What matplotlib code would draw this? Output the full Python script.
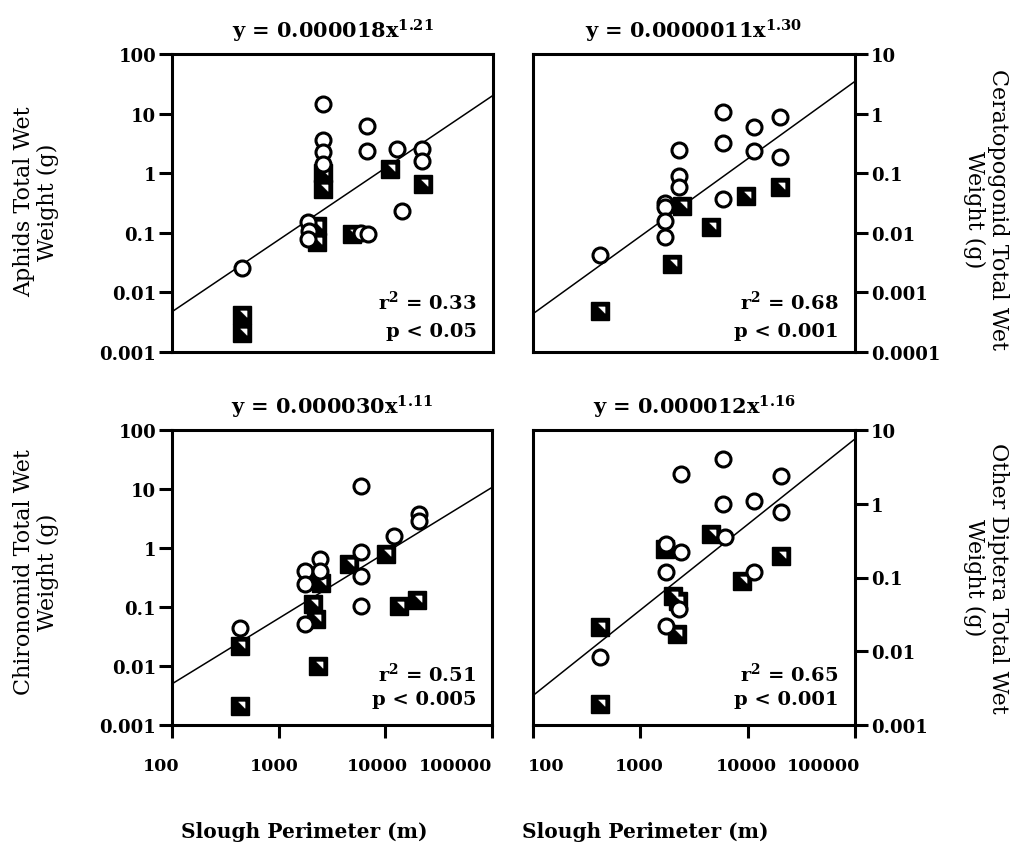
import numpy as np
import matplotlib
matplotlib.use("Agg")
import matplotlib.pyplot as plt
from matplotlib.ticker import FixedLocator, FixedFormatter, NullLocator

plt.rcParams['font.family'] = ['DejaVu Serif']
plt.rcParams['font.weight'] = 'bold'
plt.rcParams['mathtext.fontset'] = 'custom'
plt.rcParams['mathtext.rm'] = 'DejaVu Serif:bold'
plt.rcParams['mathtext.it'] = 'DejaVu Serif:bold'
plt.rcParams['mathtext.bf'] = 'DejaVu Serif:bold'

# ---------------- data ----------------
x_ticks = [100, 1000, 10000, 100000]
x_tick_labels = ["100", "1000", "10000", "100000"]

# Aphids (top left)
aphid_circle_x = [448, 2600, 2600, 2600, 2600, 1880, 1900, 1880, 5900, 6800, 6600, 6600, 12600, 14000, 21600, 21600]
aphid_circle_y = [0.026, 14.5, 3.6, 2.3, 1.4, 0.15, 0.109, 0.079, 0.10, 0.095, 6.3, 2.4, 2.5, 0.235, 2.5, 1.6]
aphid_square_x = [2600, 2600, 2250, 2250, 4775, 10900, 22300, 448, 448]
aphid_square_y = [1.0, 0.55, 0.13, 0.069, 0.095, 1.17, 0.66, 0.0041, 0.0021]

# Ceratopogonid (top right)
cerat_circle_x = [421, 2310, 2310, 2310, 1700, 1700, 1700, 1700, 5930, 5930, 5930, 11560, 11560, 20000, 20000]
cerat_circle_y = [0.0042, 0.245, 0.091, 0.058, 0.032, 0.027, 0.0155, 0.0084, 1.08, 0.32, 0.037, 0.59, 0.24, 0.87, 0.19]
cerat_square_x = [2430, 1960, 421, 4570, 9690, 20000]
cerat_square_y = [0.0285, 0.003, 0.00049, 0.0127, 0.042, 0.058]

# Chironomid (bottom left)
chiro_circle_x = [432, 1750, 1750, 2415, 2415, 1750, 5930, 5930, 5930, 5930, 12130, 20800, 20800]
chiro_circle_y = [0.0436, 0.41, 0.245, 0.65, 0.41, 0.051, 11.4, 0.85, 0.34, 0.105, 1.6, 3.8, 2.9]
chiro_square_x = [432, 432, 2330, 2090, 2240, 2510, 4610, 10140, 13500, 20000]
chiro_square_y = [0.022, 0.0021, 0.0101, 0.112, 0.063, 0.26, 0.54, 0.79, 0.105, 0.133]

# Other Diptera (bottom right)
dipt_circle_x = [417, 1750, 2415, 1750, 2300, 1750, 2415, 5890, 5890, 6100, 11470, 11470, 20300, 20300]
dipt_circle_y = [0.0083, 0.284, 0.22, 0.12, 0.037, 0.022, 2.53, 4.0, 1.0, 0.35, 1.1, 0.117, 2.4, 0.78]
dipt_square_x = [417, 417, 1700, 2000, 2230, 2190, 4510, 8900, 20300]
dipt_square_y = [0.021, 0.0019, 0.24, 0.057, 0.048, 0.017, 0.39, 0.091, 0.198]

# power-law fits y = a * x^b
fit_a = [0.000018, 0.0000011, 0.000030, 0.000012]
fit_b = [1.21, 1.30, 1.11, 1.16]
titles = ["y = 0.000018x$^{1.21}$", "y = 0.0000011x$^{1.30}$",
          "y = 0.000030x$^{1.11}$", "y = 0.000012x$^{1.16}$"]
r2_labels = ["r$^2$ = 0.33", "r$^2$ = 0.68", "r$^2$ = 0.51", "r$^2$ = 0.65"]
p_labels = ["p < 0.05", "p < 0.001", "p < 0.005", "p < 0.001"]
y_labels = ["Aphids Total Wet\nWeight (g)", "Ceratopogonid Total Wet\nWeight (g)",
            "Chironomid Total Wet\nWeight (g)", "Other Diptera Total Wet\nWeight (g)"]

y_ticks = [
    [0.001, 0.01, 0.1, 1, 10, 100],
    [0.0001, 0.001, 0.01, 0.1, 1, 10],
    [0.001, 0.01, 0.1, 1, 10, 100],
    [0.001, 0.01, 0.1, 1, 10],
]
y_tick_labels = [
    ["0.001", "0.01", "0.1", "1", "10", "100"],
    ["0.0001", "0.001", "0.01", "0.1", "1", "10"],
    ["0.001", "0.01", "0.1", "1", "10", "100"],
    ["0.001", "0.01", "0.1", "1", "10"],
]
x_label = "Slough Perimeter (m)"

# ---------------- layout ----------------
W, H = 1026, 853
fig = plt.figure(figsize=(W / 100, H / 100), dpi=100)


def px_rect(x0, y0, w, h):
    return [x0 / W, 1 - (y0 + h) / H, w / W, h / H]


rects = [px_rect(172, 55, 321, 298), px_rect(533, 55, 322, 298),
         px_rect(172, 431, 320, 295), px_rect(533, 431, 322, 295)]

circles_x = [aphid_circle_x, cerat_circle_x, chiro_circle_x, dipt_circle_x]
circles_y = [aphid_circle_y, cerat_circle_y, chiro_circle_y, dipt_circle_y]
squares_x = [aphid_square_x, cerat_square_x, chiro_square_x, dipt_square_x]
squares_y = [aphid_square_y, cerat_square_y, chiro_square_y, dipt_square_y]

# small white upper-right triangle drawn inside each black square
tri_marker = [(-0.2, 0.5), (0.5, 0.5), (0.5, -0.2), (-0.2, 0.5)]

# per-label x offsets (points) and alignment for bottom tick labels
xlab_style = [
    [(-8, 'center'), (-3, 'center'), (-6, 'center'), (0, 'right')],
    [(-4, 'left'), (-1, 'center'), (-1, 'center'), (4, 'right')],
]

for i in range(4):
    ax = fig.add_axes(rects[i])
    ax.set_xscale('log')
    ax.set_yscale('log')
    ax.set_xlim(100, 100000)
    ax.set_ylim(y_ticks[i][0], y_ticks[i][-1])

    # fit line
    xs = np.array([100, 100000])
    ax.plot(xs, fit_a[i] * xs ** fit_b[i], color='black', lw=1.1, zorder=2)

    ax.plot(squares_x[i], squares_y[i], ls='none', marker='s', ms=13.5,
            mfc='black', mec='black', mew=1, zorder=3)
    ax.plot(squares_x[i], squares_y[i], ls='none', marker=tri_marker, ms=6.6,
            mfc='white', mec='white', mew=0.3, zorder=3)
    ax.plot(circles_x[i], circles_y[i], ls='none', marker='o', ms=10.8,
            mfc='white', mec='black', mew=2.2, zorder=4)

    for s in ax.spines.values():
        s.set_linewidth(2.2)
        s.set_color('black')

    ax.yaxis.set_major_locator(FixedLocator(y_ticks[i]))
    ax.yaxis.set_major_formatter(FixedFormatter(y_tick_labels[i]))
    ax.yaxis.set_minor_locator(NullLocator())
    ax.xaxis.set_major_locator(FixedLocator(x_ticks))
    ax.xaxis.set_minor_locator(NullLocator())

    right = i % 2 == 1
    if right:
        ax.yaxis.tick_right()
    ax.tick_params(axis='y', which='major', direction='out', length=9.5,
                   width=2.2, labelsize=13, pad=2)

    bottom = i >= 2
    ax.tick_params(axis='x', which='major', direction='out', length=9,
                   width=2.2, bottom=bottom, labelbottom=False)
    if bottom:
        for xv, lbl, (dx, ha) in zip(x_ticks, x_tick_labels, xlab_style[i - 2]):
            ax.annotate(lbl, xy=(xv, 0), xycoords=('data', 'axes fraction'),
                        xytext=(dx, -23), textcoords='offset points',
                        ha=ha, va='top', fontsize=12.5)

    ax.set_title(titles[i], fontsize=15, pad=12, fontweight='bold')

    r2_y = 0.145 if i < 2 else 0.15
    p_y = 0.055 if i < 2 else 0.07
    ax.text(0.95, r2_y, r2_labels[i], transform=ax.transAxes, ha='right',
            va='baseline', fontsize=14)
    ax.text(0.95, p_y, p_labels[i], transform=ax.transAxes, ha='right',
            va='baseline', fontsize=14)

# y axis titles
ylab_kw = dict(ha='center', va='center', multialignment='center',
               fontsize=16, linespacing=1.1, fontweight='normal')
fig.text(36 / W, 1 - 202 / H, y_labels[0], rotation=90, **ylab_kw)
fig.text(986 / W, 1 - 210 / H, y_labels[1], rotation=270, **ylab_kw)
fig.text(36 / W, 1 - 572 / H, y_labels[2], rotation=90, **ylab_kw)
fig.text(986 / W, 1 - 578 / H, y_labels[3], rotation=270, **ylab_kw)

# x axis titles
fig.text(304 / W, 1 - 832 / H, x_label, ha='center', va='center', fontsize=14.5)
fig.text(645 / W, 1 - 832 / H, x_label, ha='center', va='center', fontsize=14.5)

fig.savefig("out.png", dpi=100)
